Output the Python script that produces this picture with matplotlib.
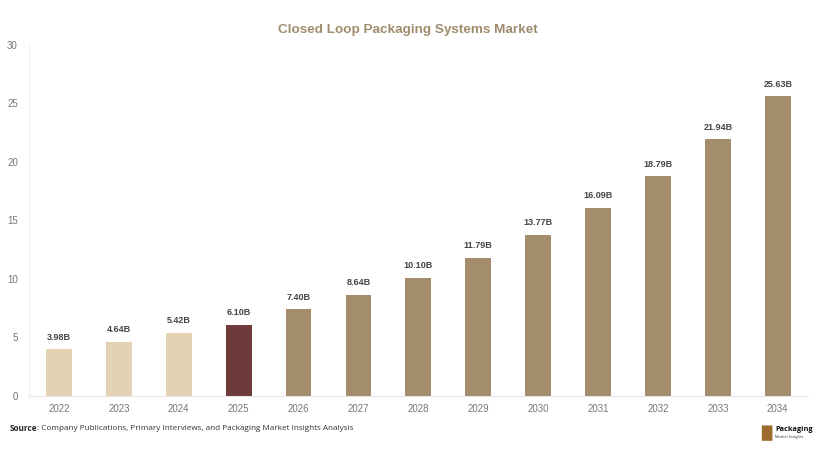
import matplotlib
matplotlib.use('Agg')
import matplotlib.pyplot as plt
from matplotlib.patches import FancyBboxPatch

years = ['2022', '2023', '2024', '2025', '2026', '2027', '2028',
         '2029', '2030', '2031', '2032', '2033', '2034']
values = [3.98, 4.64, 5.42, 6.10, 7.40, 8.64, 10.10,
          11.79, 13.77, 16.09, 18.79, 21.94, 25.63]
labels = ['3.98B', '4.64B', '5.42B', '6.10B', '7.40B', '8.64B', '10.10B',
          '11.79B', '13.77B', '16.09B', '18.79B', '21.94B', '25.63B']

past_col = '#E3D2B4'
now_col = '#6E3B3B'
future_col = '#A38D6D'
colors = [past_col] * 3 + [now_col] + [future_col] * 9

fig = plt.figure(figsize=(8.2, 4.54), dpi=100)
ax = fig.add_axes([0.0354, 0.1278, 0.9496, 0.7731])

x = list(range(len(years)))
ax.bar(x, values, width=0.43, color=colors, edgecolor='none', zorder=2)

for xi, v, lab in zip(x, values, labels):
    ax.text(xi, v + 0.65, lab, ha='center', va='bottom', fontsize=6.5,
            fontweight='bold', color='#444444', family='Liberation Sans')

ax.set_xlim(-0.5, 12.5)
ax.set_ylim(0, 30)
ax.set_yticks([0, 5, 10, 15, 20, 25, 30])
ax.set_xticks(x)
ax.set_xticklabels(years)
ax.tick_params(axis='both', length=0, labelsize=7, colors='#777777', pad=6)
for t in ax.get_xticklabels() + ax.get_yticklabels():
    t.set_family('Liberation Sans')
ax.tick_params(axis='y', pad=8)

for s in ['top', 'right']:
    ax.spines[s].set_visible(False)
ax.spines['left'].set_color('#EEEEEE')
ax.spines['bottom'].set_color('#E6E6E6')

fig.text(0.497, 0.934, 'Closed Loop Packaging Systems Market', ha='center',
         va='center', fontsize=9.7, fontweight='bold', color='#A08C6E',
         family='Liberation Sans')

src = fig.text(0.012, 0.057, 'Source', fontsize=5.9, fontweight='bold',
               color='#222222', va='center', family='Open Sans')
fig.text(0, 0, ': Company Publications, Primary Interviews, and Packaging Market Insights Analysis',
         fontsize=5.9, color='#333333', va='center', family='Open Sans',
         transform=None).remove()
ax.annotate(': Company Publications, Primary Interviews, and Packaging Market Insights Analysis',
            xy=(1, 0.5), xycoords=src, va='center', ha='left',
            fontsize=5.9, color='#333333', family='Open Sans', annotation_clip=False)

# small logo
fig.patches.append(FancyBboxPatch((0.930, 0.030), 0.011, 0.032,
                                  boxstyle='round,pad=0.001', transform=fig.transFigure,
                                  facecolor='#9C6B2E', edgecolor='none'))
fig.text(0.945, 0.055, 'Packaging', fontsize=5.3, fontweight='bold',
         color='#111111', va='center', family='Open Sans')
fig.text(0.945, 0.037, 'Market Insights', fontsize=2.8, color='#333333',
         va='center', family='Open Sans')

fig.savefig('out.png', dpi=100, facecolor='white')
